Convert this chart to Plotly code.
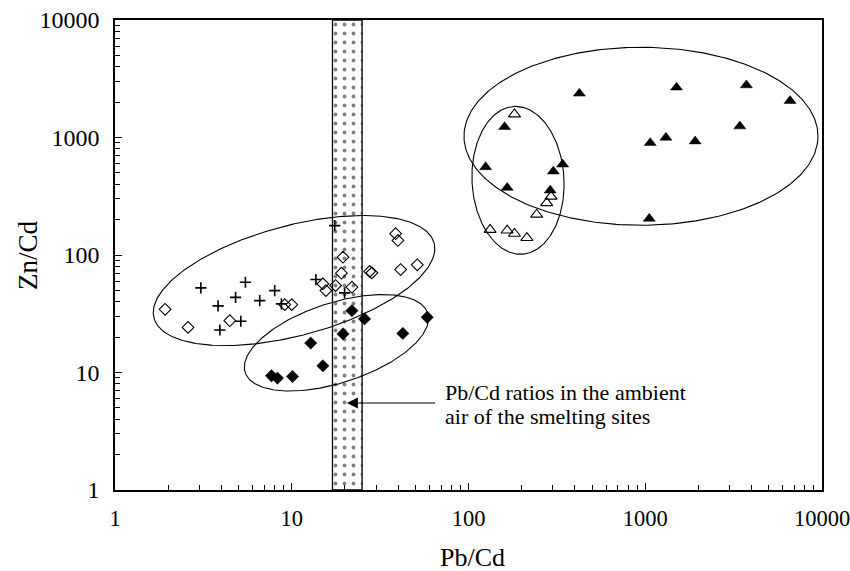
import numpy as np
import plotly.graph_objects as go

# ---------------- data ----------------
cross_x = [17.5, 3.06, 5.47, 4.81, 3.83, 6.59, 8.01, 8.74, 5.15, 3.92, 13.7, 19.9]
cross_y = [178, 52.5, 58.6, 43.6, 36.9, 40.9, 49.8, 38.4, 27.3, 23.0, 61.8, 47.6]

odia_x = [1.92, 2.59, 4.46, 9.13, 10.0, 15.0, 15.6, 17.7, 19.5, 19.1, 21.9, 28.4, 27.6, 38.7, 39.9, 41.3, 51.3]
odia_y = [34.5, 24.2, 27.6, 37.8, 37.8, 56.8, 49.8, 55.0, 95.8, 70.0, 53.2, 70.5, 72.5, 151.7, 133, 75.2, 82.5]

fdia_x = [7.68, 8.30, 10.1, 12.8, 15.0, 19.5, 21.9, 25.8, 42.5, 58.4]
fdia_y = [9.38, 8.96, 9.25, 17.8, 11.4, 21.3, 33.6, 28.6, 21.5, 29.5]

ftri_x = [424, 1503, 3735, 6595, 3428, 1067, 1309, 1915, 1054, 160, 125, 165.5, 341, 302, 290]
ftri_y = [2371, 2667, 2790, 2050, 1247, 899, 999, 929, 204, 1231, 561, 374, 591, 515, 355]

otri_x = [182, 293, 277, 243, 132.5, 165.5, 182, 214]
otri_y = [1578, 315, 277, 221, 164, 162, 152, 140]

# ambient-air Pb/Cd band and the arrow target inside it
band_lo, band_hi = 17.0, 25.0
arrow_x, arrow_y, arrow_tail_x = 20.5, 5.5, 66.0
note_x = 71.5
note_lines = ["Pb/Cd ratios in the ambient", "air of the smelting sites"]
note_line_y = [6.8, 4.2]

x_tick_vals = [1, 10, 100, 1000, 10000]
y_tick_vals = [1, 10, 100, 1000, 10000]
tick_text = ["1", "10", "100", "1000", "10000"]

x_title, y_title = "Pb/Cd", "Zn/Cd"

# ellipse groups: centre (data), semi-axes (px), rotation (deg)
ell_cx = [10.3, 17.9, 946, 190.6]
ell_cy = [60.6, 17.9, 1025, 432]
ell_a = [145, 96, 177, 74]
ell_b = [55, 40, 89, 46]
ell_rot = [15, 18, 0, 93]

# ---------------- layout geometry ----------------
W, H = 850, 571
ML, MR, MT, MB = 115, 28, 20, 81
PW, PH = W - ML - MR, H - MT - MB
pxx = PW / 4.0   # px per decade x
pxy = PH / 4.0   # px per decade y

FONT = "Liberation Serif, Times New Roman, serif"

fig = go.Figure()

# band with dotted fill
fig.add_trace(go.Scatter(
    x=[band_lo, band_hi, band_hi, band_lo, band_lo],
    y=[1, 1, 10000, 10000, 1],
    mode="lines", fill="toself", fillcolor="white",
    fillpattern=dict(shape=".", fgcolor="black", bgcolor="white", size=9, solidity=0.14),
    line=dict(color="black", width=1.3), hoverinfo="skip", showlegend=False))

# ellipses
t = np.linspace(0, 2 * np.pi, 361)
for cx, cy, a, b, r in zip(ell_cx, ell_cy, ell_a, ell_b, ell_rot):
    th = np.deg2rad(r)
    dx = a * np.cos(t) * np.cos(th) - b * np.sin(t) * np.sin(th)
    dy = a * np.cos(t) * np.sin(th) + b * np.sin(t) * np.cos(th)
    ex = 10 ** (np.log10(cx) + dx / pxx)
    ey = 10 ** (np.log10(cy) + dy / pxy)
    fig.add_trace(go.Scatter(x=ex, y=ey, mode="lines",
                             line=dict(color="black", width=1.1),
                             hoverinfo="skip", showlegend=False))

fig.add_trace(go.Scatter(x=cross_x, y=cross_y, mode="markers", showlegend=False,
                         marker=dict(symbol="cross-thin-open", size=8, color="black",
                                     line=dict(color="black", width=1.6))))
fig.add_trace(go.Scatter(x=odia_x, y=odia_y, mode="markers", showlegend=False,
                         marker=dict(symbol="diamond-open", size=9, color="black",
                                     line=dict(color="black", width=1.1))))
fig.add_trace(go.Scatter(x=fdia_x, y=fdia_y, mode="markers", showlegend=False,
                         marker=dict(symbol="diamond", size=9.5, color="black",
                                     line=dict(color="black", width=0.5))))
fig.add_trace(go.Scatter(x=ftri_x, y=ftri_y, mode="markers", showlegend=False,
                         marker=dict(symbol="triangle-up", size=10.5, color="black",
                                     line=dict(color="black", width=0.5))))
fig.add_trace(go.Scatter(x=otri_x, y=otri_y, mode="markers", showlegend=False,
                         marker=dict(symbol="triangle-up-open", size=10.5, color="black",
                                     line=dict(color="black", width=1.1))))

# arrow
fig.add_annotation(x=np.log10(arrow_x), y=np.log10(arrow_y), xref="x", yref="y",
                   ax=np.log10(arrow_tail_x), ay=np.log10(arrow_y), axref="x", ayref="y",
                   text="", showarrow=True, arrowhead=2, arrowsize=2.2, arrowwidth=1,
                   arrowcolor="black", standoff=0)
for line, ly in zip(note_lines, note_line_y):
    fig.add_annotation(x=np.log10(note_x), y=np.log10(ly), xref="x", yref="y",
                       text=line, showarrow=False, xanchor="left", yanchor="middle",
                       align="left", font=dict(family=FONT, size=22, color="black"))

# axis titles
fig.add_annotation(x=(472 - ML) / PW, y=-(557 - (MT + PH)) / PH, xref="paper", yref="paper",
                   text=x_title, showarrow=False, xanchor="center", yanchor="middle",
                   font=dict(family=FONT, size=26, color="black"))
fig.add_annotation(x=-(ML - 28) / PW, y=0.5, xref="paper", yref="paper",
                   text=y_title, showarrow=False, xanchor="center", yanchor="middle",
                   textangle=-90, font=dict(family=FONT, size=27, color="black"))

minor_vals = [m * 10 ** k for k in range(0, 4) for m in range(2, 10)]

axis_common = dict(type="log", range=[0, 4], showgrid=False, zeroline=False,
                   automargin=False, ticklabeloverflow="allow",
                   showline=True, linecolor="black", linewidth=1.6, mirror=True,
                   ticks="inside", ticklen=7, tickwidth=1.2, tickcolor="black",
                   tickmode="array", ticktext=tick_text,
                   minor=dict(ticks="inside", ticklen=5, tickwidth=1, tickcolor="black",
                              tickmode="array", tickvals=minor_vals, showgrid=False))

fig.update_xaxes(**axis_common, tickvals=x_tick_vals, ticklabelstandoff=7,
                 tickfont=dict(family=FONT, size=22.5, color="black"))
fig.update_yaxes(**axis_common, tickvals=y_tick_vals, ticklabelstandoff=9,
                 tickfont=dict(family=FONT, size=24, color="black"))

fig.update_layout(width=W, height=H, margin=dict(l=ML, r=MR, t=MT, b=MB),
                  paper_bgcolor="white", plot_bgcolor="white", showlegend=False)

fig.write_html("out.html")
